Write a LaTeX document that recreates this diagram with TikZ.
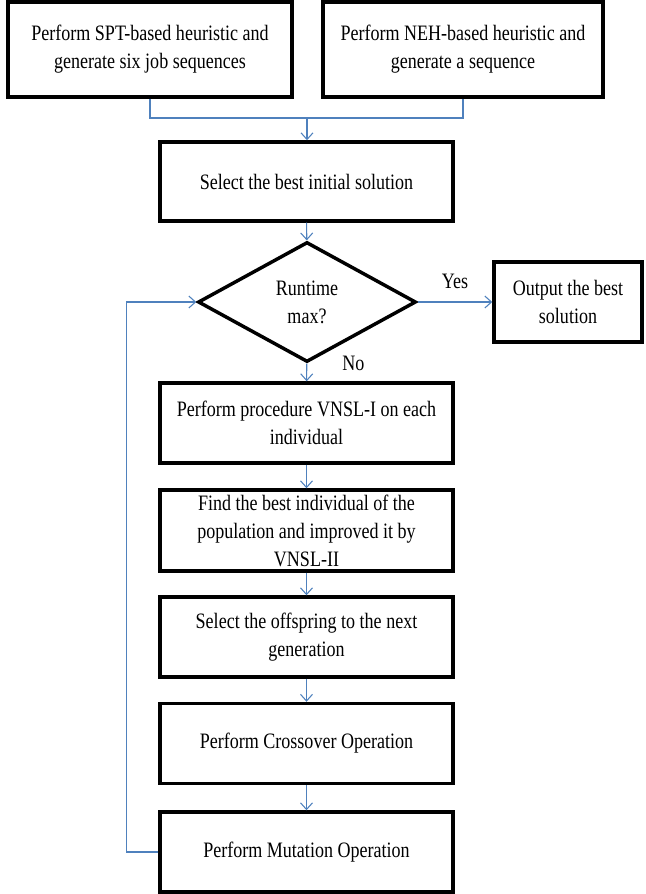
\documentclass[tikz,border=0pt]{standalone}
\usepackage{fontspec}
\setmainfont{Liberation Serif}[FakeStretch=0.82]
\usetikzlibrary{shapes.geometric, arrows.meta}
\definecolor{linkblue}{RGB}{79,129,189}

\begin{document}
\begin{tikzpicture}[x = 0.75pt, y = -0.75pt,
  font = \fontsize{16.5}{21}\selectfont,
  box/.style = {draw, line width = 2.6pt, align = center, inner sep = 1pt, minimum width = 219.75pt, minimum height = 60pt},
  decision/.style = {draw, diamond, line width = 2.6pt, align = center, inner sep = 0pt, minimum width = 163.5pt, minimum height = 90pt},
  flow/.style = {draw = linkblue, line width = 0.8pt},
  arr/.style = {flow, -{Straight Barb[length = 5pt, width = 9pt]}}]
\useasboundingbox (0,0) rectangle (646,894);
\node[box, minimum width = 213pt, minimum height = 71.25pt](spt) at (150,49.5){Perform SPT-based heuristic and\\generate six job sequences};
\node[box, minimum width = 210pt, minimum height = 71.25pt](neh) at (463,49.5){Perform NEH-based heuristic and\\generate a sequence};
\node[box, minimum height = 59.25pt](sel) at (306.5,181.5){Select the best initial solution};
\node[decision](run) at (307,302){Runtime\\max?};
\node[box, minimum width = 111pt](out) at (568,302){Output the best\\solution};
\node[box](vn1) at (306.5,423){Perform procedure VNSL-I on each\\individual};
\node[box, inner sep = 0pt, minimum height = 60.75pt](best) at (306.5,530.5){Find the best individual of the\\population and improved it by\\VNSL-II};
\node[box](off) at (306.5,637){Select the offspring to the next\\generation};
\node[box](cro) at (306.5,743.5){Perform Crossover Operation};
\node[box](mut) at (306.5,852){Perform Mutation Operation};
\coordinate (join) at (307,118);
\draw[flow] (spt.south) |- (join) -| (neh.south);
\draw[arr] (join) -- (join |- sel.north);
\draw[arr] (sel) -- (run);
\draw[arr] (run) -- node[above = 6pt]{Yes} (out);
\draw[arr] (run) -- node[pos = 0, right = 23pt]{No} (vn1);
\draw[arr] (vn1) -- (best);
\draw[arr] (best) -- (off);
\draw[arr] (off) -- (cro);
\draw[arr] (cro) -- (mut);
\draw[arr] (mut.west) -- ++(-32,0) |- (run.west);
\end{tikzpicture}
\end{document}
